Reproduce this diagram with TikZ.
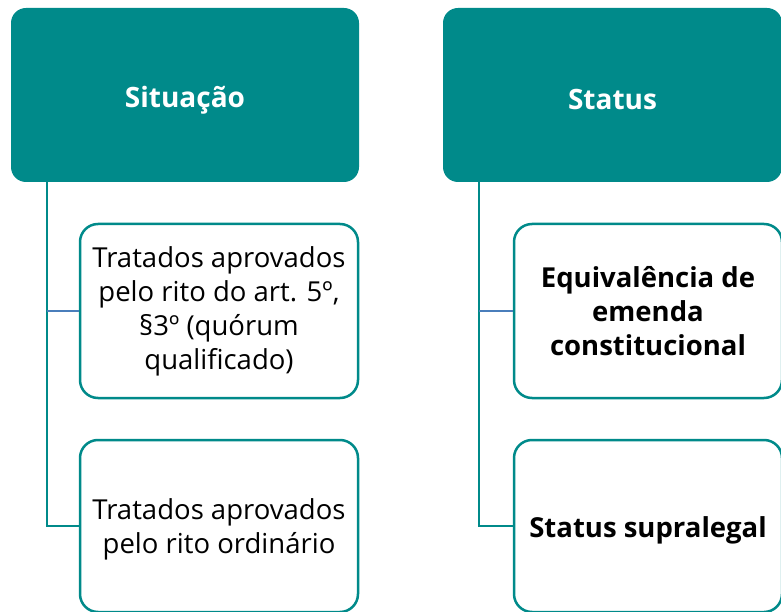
\documentclass[tikz,border=0pt]{standalone}
\usepackage{fontspec}
\setmainfont{Open Sans}
\definecolor{tealbox}{RGB}{0,138,138}
\definecolor{connblue}{RGB}{74,126,187}
\newcommand{\lowr}[2]{\raisebox{-#1}[\height][\depth]{#2}}
\tikzset{
  headbox/.style={fill=tealbox, draw=none, rounded corners=15pt, text=white,
    font=\fontsize{28}{34}\selectfont\bfseries, align=center, inner sep=0pt},
  childbox/.style={draw=tealbox, line width=2.5pt, rounded corners=18pt, fill=white,
    text=black, align=center, inner sep=0pt, font=\fontsize{27.5}{34}\selectfont},
  conn/.style={draw=tealbox, line width=2.5pt},
  connb/.style={draw=connblue, line width=2.5pt}
}
\begin{document}
\begin{tikzpicture}[x=1pt,y=-1pt]
\useasboundingbox (0,0) rectangle (781,612);
% headers
\node[headbox, minimum width=348pt, minimum height=174pt] (hL) at (185,95) {\lowr{5pt}{Situação}};
\node[headbox, minimum width=339pt, minimum height=174pt] (hR) at (612.5,95) {\lowr{5pt}{Status}};
% children left
\node[childbox, minimum width=278pt, minimum height=174pt] (cL1) at (219,311)
  {Tratados aprovados\\pelo rito do art. 5º,\\§3º (quórum\\qualificado)};
\node[childbox, minimum width=278pt, minimum height=172pt] (cL2) at (219,526)
  {\lowr{4pt}{\begin{tabular}{@{}c@{}}Tratados aprovados\\pelo rito ordinário\end{tabular}}};
% children right
\node[childbox, minimum width=268pt, minimum height=174pt, font=\fontsize{27.5}{34}\selectfont\bfseries] (cR1) at (648,311)
  {Equivalência de\\emenda\\constitucional};
\node[childbox, minimum width=268pt, minimum height=172pt, font=\fontsize{27.5}{34}\selectfont\bfseries] (cR2) at (648,526)
  {\lowr{4pt}{Status supralegal}};
% connectors
\coordinate (vL) at ([xshift=36pt]hL.south west);
\coordinate (vR) at ([xshift=36pt]hR.south west);
\draw[conn] (vL) |- (cL2.west);
\draw[connb] (vL |- cL1.west) -- (cL1.west);
\draw[conn] (vR) |- (cR2.west);
\draw[connb] (vR |- cR1.west) -- (cR1.west);
\end{tikzpicture}
\end{document}
